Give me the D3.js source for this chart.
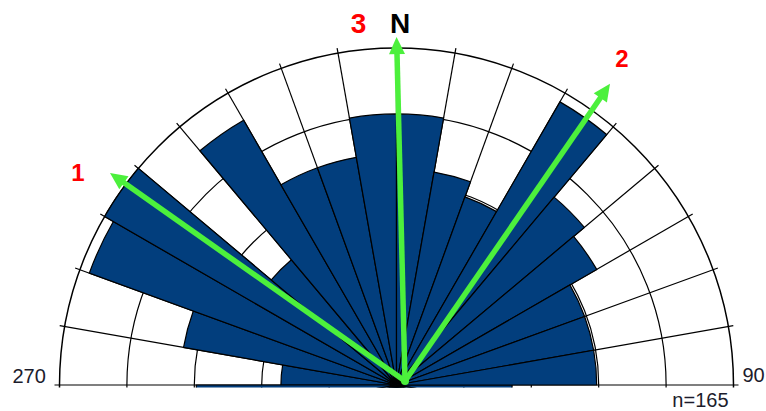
<!DOCTYPE html>
<html>
<head>
<meta charset="utf-8">
<script src="https://cdn.jsdelivr.net/npm/d3@7"></script>
<style>
  html, body { margin: 0; padding: 0; background: #fff; }
  svg { display: block; }
  text { font-family: "Liberation Sans", Arial, sans-serif; }
</style>
</head>
<body>
<script>
// Axial rose diagram: 10-degree bins from 270 through N to 90 (mirrored below).
const binStarts = [270, 280, 290, 300, 310, 320, 330, 340, 350, 0, 10, 20, 30, 40, 50, 60, 70, 80];
const binCounts = [2, 7, 16, 17, 4, 14, 8, 8, 11, 11, 7, 6, 16, 9, 8, 6, 6, 6];
const binWidth = 10;
const outerCount = 17;          // count at the outer circle (equal-area scale)
const ringCount = 5;            // number of grid circles
const spokeStep = 10;           // degrees between grid spokes

// Mean directions marked with arrows
const arrowLabels = ["1", "2", "3"];
const arrowAzimuths = [305.2, 34.6, 358.6];

// Axis and summary texts
const axisLabels = ["270", "N", "90"];
const sampleLabel = "n=165";

const W = 766, H = 411;
const cx = 396.5, cy = 385, R = 337;

const svg = d3.select("body").append("svg")
  .attr("width", W).attr("height", H);

const rScale = d3.scaleSqrt().domain([0, outerCount]).range([0, R]);
const ringScale = d3.scaleLinear().domain([0, ringCount]).range([0, R]);

svg.append("defs").append("clipPath").attr("id", "upper")
  .append("rect").attr("x", 0).attr("y", 0).attr("width", W).attr("height", cy + 2.5);

const rose = svg.append("g")
  .attr("clip-path", "url(#upper)")
  .append("g")
  .attr("transform", `translate(${cx},${cy})`);

// grid circles
rose.selectAll("circle.ring")
  .data(d3.range(1, ringCount + 1))
  .join("circle")
  .attr("class", "ring")
  .attr("r", d => ringScale(d))
  .attr("fill", "none")
  .attr("stroke", "#000")
  .attr("stroke-width", d => d === ringCount ? 1.5 : 1.2);

// grid spokes with small ticks past the outer circle
const toRad = d => d * Math.PI / 180;
rose.selectAll("line.spoke")
  .data(d3.range(0, 360, spokeStep))
  .join("line")
  .attr("class", "spoke")
  .attr("x1", 0).attr("y1", 0)
  .attr("x2", d => Math.sin(toRad(d)) * (R + 5))
  .attr("y2", d => -Math.cos(toRad(d)) * (R + 5))
  .attr("stroke", "#000")
  .attr("stroke-width", 1.2);

// petals, each bin drawn with its axial mirror
const petals = [];
binStarts.forEach((a, i) => {
  petals.push({ az: a, n: binCounts[i] });
  petals.push({ az: (a + 180) % 360, n: binCounts[i] });
});

const arc = d3.arc()
  .innerRadius(0)
  .outerRadius(d => rScale(d.n))
  .startAngle(d => toRad(d.az))
  .endAngle(d => toRad(d.az + binWidth));

rose.selectAll("path.petal")
  .data(petals)
  .join("path")
  .attr("class", "petal")
  .attr("d", arc)
  .attr("fill", "#023e7d")
  .attr("stroke", "#000")
  .attr("stroke-width", 1.2)
  .attr("stroke-linejoin", "miter");

// direction arrows
const arrowOrigin = [cx + 8.5, cy - 4];
const arrowLengths = [361, 361, 344];
const labelOffsets = [[-32, 8], [12, -17], [-38, -4]];
const labelSizes = [24, 24, 28];
const green = "#4cf03c";
const headLen = 17, headHalf = 8;

const arrows = svg.append("g");
arrowAzimuths.forEach((az, i) => {
  const ux = Math.sin(toRad(az)), uy = -Math.cos(toRad(az));
  const px = -uy, py = ux;
  const L = arrowLengths[i];
  const tip = [arrowOrigin[0] + ux * L, arrowOrigin[1] + uy * L];
  const base = [tip[0] - ux * headLen, tip[1] - uy * headLen];
  arrows.append("line")
    .attr("x1", arrowOrigin[0]).attr("y1", arrowOrigin[1])
    .attr("x2", base[0] + ux * 2).attr("y2", base[1] + uy * 2)
    .attr("stroke", green).attr("stroke-width", 5.5);
  arrows.append("path")
    .attr("d", d3.line()([
      tip,
      [base[0] + px * headHalf, base[1] + py * headHalf],
      [base[0] - px * headHalf, base[1] - py * headHalf]
    ]) + "Z")
    .attr("fill", green);
  arrows.append("text")
    .attr("x", tip[0] + labelOffsets[i][0])
    .attr("y", tip[1] + labelOffsets[i][1])
    .attr("text-anchor", "middle")
    .attr("font-size", labelSizes[i])
    .attr("font-weight", "bold")
    .attr("fill", "#ff0000")
    .text(arrowLabels[i]);
});
// small hub where the arrows meet
arrows.append("circle")
  .attr("cx", arrowOrigin[0]).attr("cy", arrowOrigin[1]).attr("r", 4)
  .attr("fill", green);

// axis labels
svg.append("text")
  .attr("x", cx - R - 47).attr("y", cy - 2)
  .attr("font-size", 20).attr("fill", "#1c1c2c")
  .text(axisLabels[0]);
svg.append("text")
  .attr("x", cx + 3.5).attr("y", cy - R - 15)
  .attr("text-anchor", "middle")
  .attr("font-size", 28).attr("font-weight", "bold").attr("fill", "#000")
  .text(axisLabels[1]);
svg.append("text")
  .attr("x", cx + R + 9).attr("y", cy - 3)
  .attr("font-size", 20).attr("fill", "#1c1c2c")
  .text(axisLabels[2]);
svg.append("text")
  .attr("x", cx + R - 5).attr("y", cy + 21.5)
  .attr("text-anchor", "end")
  .attr("font-size", 20).attr("fill", "#1c1c2c")
  .text(sampleLabel);
</script>
</body>
</html>
